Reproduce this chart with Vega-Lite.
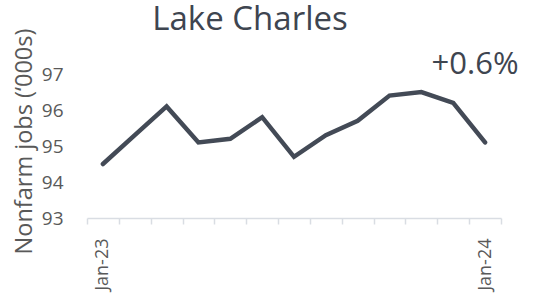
{
  "$schema": "https://vega.github.io/schema/vega-lite/v6.json",
  "width": 414,
  "height": 180,
  "autosize": "none",
  "padding": {"left": 87, "top": 38, "right": 37, "bottom": 82},
  "background": "white",
  "config": {"view": {"stroke": null}, "font": "Open Sans"},
  "title": {"text": "Lake Charles", "anchor": "middle", "frame": "group", "dx": -44, "offset": -35, "baseline": "alphabetic", "fontSize": 33, "font": "Open Sans", "fontWeight": "normal", "color": "#3e4550"},
  "data": {"values": [
    {"month": "Jan-23", "jobs": 94.5},
    {"month": "Feb-23", "jobs": 95.3},
    {"month": "Mar-23", "jobs": 96.1},
    {"month": "Apr-23", "jobs": 95.1},
    {"month": "May-23", "jobs": 95.2},
    {"month": "Jun-23", "jobs": 95.8},
    {"month": "Jul-23", "jobs": 94.7},
    {"month": "Aug-23", "jobs": 95.3},
    {"month": "Sep-23", "jobs": 95.7},
    {"month": "Oct-23", "jobs": 96.4},
    {"month": "Nov-23", "jobs": 96.5},
    {"month": "Dec-23", "jobs": 96.2},
    {"month": "Jan-24", "jobs": 95.1}
  ]},
  "layer": [
    {
      "mark": {"type": "line", "color": "#434a56", "strokeWidth": 4.5, "strokeCap": "round", "strokeJoin": "miter"},
      "encoding": {
        "x": {"field": "month", "type": "ordinal", "sort": null,
              "scale": {"type": "band", "paddingInner": 0, "paddingOuter": 0,
                        "domain": ["Jan-23", "Feb-23", "Mar-23", "Apr-23", "May-23", "Jun-23", "Jul-23", "Aug-23", "Sep-23", "Oct-23", "Nov-23", "Dec-23", "Jan-24"]},
              "axis": {"title": null, "labelAngle": 270, "labelExpr": "datum.value == 'Jan-23' || datum.value == 'Jan-24' ? datum.value : ''",
                       "tickBand": "extent", "tickSize": 6, "tickColor": "#d9dde3", "domainColor": "#d9dde3", "domainWidth": 1.5, "tickWidth": 1.5,
                       "labelFontSize": 18, "labelColor": "#595959", "labelPadding": 14, "labelFont": "Open Sans", "grid": false}},
        "y": {"field": "jobs", "type": "quantitative",
              "scale": {"domain": [93, 98], "nice": false, "zero": false},
              "axis": {"values": [93, 94, 95, 96, 97], "title": "Nonfarm jobs (‘000s)", "titleFontSize": 23.5, "titleFontWeight": "normal", "titleColor": "#595959", "titleFont": "Open Sans",
                       "titleY": 103, "titlePadding": 5, "domain": false, "ticks": false, "grid": false, "labelPadding": 24, "labelFontSize": 19, "labelColor": "#595959", "labelFont": "Open Sans"}}
      }
    },
    {
      "data": {"values": [{"month": "Jan-24", "jobs": 97, "label": "+0.6%"}]},
      "mark": {"type": "text", "fontSize": 31, "font": "Open Sans", "color": "#3e4550", "align": "center", "baseline": "alphabetic", "dx": -10},
      "encoding": {
        "x": {"field": "month", "type": "ordinal", "sort": null},
        "y": {"field": "jobs", "type": "quantitative"},
        "text": {"field": "label"}
      }
    }
  ]
}
